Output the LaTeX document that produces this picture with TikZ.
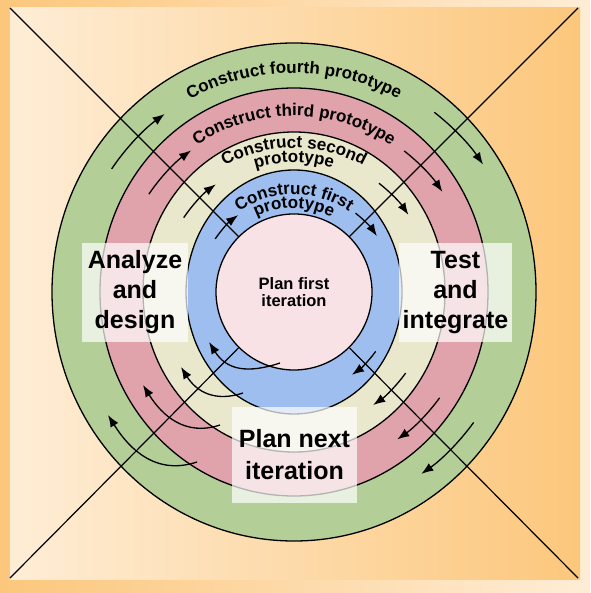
\documentclass[tikz,border=0pt]{standalone}
\usepackage{fontspec}
\setmainfont{Liberation Sans}
\usepackage{tikz}
\usetikzlibrary{arrows.meta,decorations.text,shapes}
\definecolor{bgorange}{HTML}{FCC77C}
\definecolor{bgpale}{HTML}{FEEDD6}
\definecolor{ringgreen}{HTML}{B3CE97}
\definecolor{ringred}{HTML}{E0A2AB}
\definecolor{ringcream}{HTML}{E9E7CC}
\definecolor{ringblue}{HTML}{9EBEF0}
\definecolor{innerpink}{HTML}{F8E2E5}
\newcommand{\ringfont}{\bfseries\fontsize{17}{19}\selectfont}
\tikzset{
  arr/.style={line width=1.3pt,-{Latex[length=12pt,width=9pt]}},
  ringline/.style={draw=black,line width=1.3pt},
  phasebox/.style={fill=white,fill opacity=0.7,text opacity=1,minimum width=106pt,
    minimum height=99pt,align=center,font=\bfseries\fontsize{25}{30}\selectfont},
  ringtext/.style={decorate,decoration={text along path,text align=center,text={|\ringfont|#1}}}
}

\begin{document}
\begin{tikzpicture}[x=1pt,y=1pt]
\useasboundingbox (0,0) rectangle (590,593);
\shade[left color=bgorange,right color=bgpale] (0,0) rectangle (590,593); 	% frame
\shade[left color=bgpale,right color=bgorange] (10,13) rectangle (580,585); % inside
\coordinate (c) at (294,301);
\coordinate (nw) at (10,585);
\coordinate (ne) at (578,585);
\coordinate (sw) at (10,15);
\coordinate (se) at (578,15);

\foreach \rx/\ry/\col in {242/249/ringgreen,194/204/ringred,151/160/ringcream,108/122/ringblue} % the rings
\filldraw[ringline,fill=\col] (c) ellipse [x radius=\rx,y radius=\ry];
\node[circle,ringline,fill=innerpink,minimum size=156pt,align=center,
  font=\bfseries\fontsize{16.5}{17.5}\selectfont] (plan) at (c) {Plan first\\iteration};

\path[ringtext=Construct fourth prototype] ([shift={(c)}]170:219) arc[start angle=170,end angle=10,radius=219];
\path[ringtext=Construct third prototype] ([shift={(c)}]170:176) arc[start angle=170,end angle=10,radius=176];
\path[ringtext=Construct second] ([shift={(c)}]170:144) arc[start angle=170,end angle=10,radius=144];
\path[ringtext=prototype] ([shift={(c)}]170:129.5) arc[start angle=170,end angle=10,radius=129.5];
\path[ringtext=Construct first] ([shift={(c)}]170:97.5) arc[start angle=170,end angle=10,radius=97.5];
\path[ringtext=prototype] ([shift={(c)}]170:84) arc[start angle=170,end angle=10,radius=84];

\foreach \k in {nw,ne,sw,se} % lines from the corners
\draw[line width=1.2pt] (\k) -- (plan);

\foreach \r in {220,175,133,95} % arrows, upper left
\draw[arr] ([shift={(c)}]146:\r) arc[start angle=146,end angle=126,radius=\r];
\foreach \r in {228,179,138,100} % arrows, upper right
\draw[arr] ([shift={(c)}]52:\r) arc[start angle=52,end angle=34,radius=\r];
\foreach \r in {222,180,138,101} % arrows, lower right
\draw[arr] ([shift={(c)}]-36:\r) arc[start angle=-36,end angle=-55,radius=\r];
\foreach \tx/\ty/\hx/\hy/\d in {280/230/209/251/71,243/200/181/226/62,220/168/143/208/77,197/131/108/178/89} % hooks, lower left
\draw[arr] (\tx,\ty) .. controls +(-0.45*\d,-0.15*\d) and +(0.25*\d,-0.4*\d) .. (\hx,\hy);

\node[phasebox] (analyze) at (135,300.5) {Analyze\\and\\design};
\node[phasebox,minimum width=111pt] (test) at (455.5,300) {Test\\and\\integrate};
\node[phasebox,minimum width=125pt,minimum height=96pt,
  font=\bfseries\fontsize{25}{32}\selectfont] (nextplan) at (294.5,138) {Plan next\\iteration};
\end{tikzpicture}
\end{document}
